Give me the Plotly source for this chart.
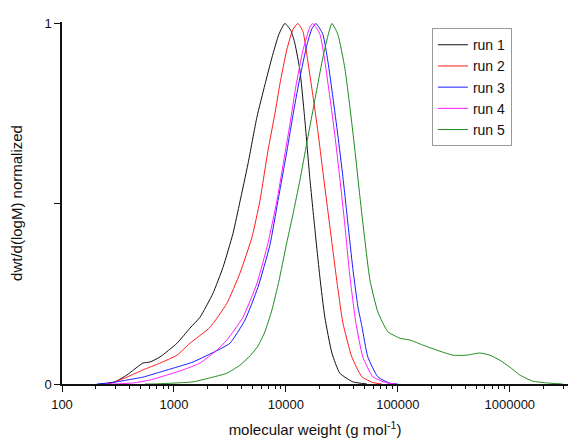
import plotly.graph_objects as go

# molecular weight (g/mol) and normalized dwt/d(logM)
run1_m = [218, 297, 380, 528, 611, 750, 1064, 1390, 1706, 2228, 2738, 3365, 3881, 4581,
          5508, 6494, 7499, 8660, 9795, 11090, 12020, 13340, 14790, 16370, 18150, 20140,
          22280, 25760, 30340, 39630, 52840]
run1_w = [0.0, 0.006, 0.025, 0.058, 0.061, 0.075, 0.113, 0.155, 0.185, 0.251, 0.323, 0.417,
          0.505, 0.61, 0.74, 0.83, 0.905, 0.97, 1.0, 0.98, 0.945, 0.87, 0.73, 0.57, 0.43,
          0.295, 0.185, 0.086, 0.03, 0.006, 0.0]

run2_m = [257, 279, 380, 528, 750, 1064, 1390, 2094, 2972, 3881, 4966, 5861, 6905, 7980,
          8830, 10210, 11550, 12790, 14190, 15700, 17420, 19320, 21380, 23710, 26300, 29110,
          32290, 38820, 47750, 59840, 71940]
run2_w = [0.0, 0.003, 0.019, 0.039, 0.058, 0.08, 0.113, 0.157, 0.224, 0.307, 0.406, 0.508,
          0.646, 0.75, 0.831, 0.928, 0.983, 1.0, 0.978, 0.895, 0.80, 0.70, 0.59, 0.48, 0.37,
          0.265, 0.17, 0.075, 0.02, 0.004, 0.0]

run3_m = [205, 269, 380, 528, 750, 1064, 1479, 2472, 3162, 4305, 5623, 7194, 8492, 10210,
          11780, 13340, 15400, 17060, 18530, 21380, 23710, 26300, 29110, 32290, 35810, 39630,
          43950, 47750, 53950, 66220, 84920, 100000]
run3_w = [0.0, 0.003, 0.011, 0.019, 0.033, 0.047, 0.061, 0.094, 0.113, 0.177, 0.268, 0.385,
          0.508, 0.646, 0.76, 0.85, 0.94, 0.985, 1.0, 0.97, 0.895, 0.795, 0.69, 0.575, 0.445,
          0.32, 0.215, 0.16, 0.075, 0.02, 0.002, 0.0]

run4_m = [242, 285, 431, 611, 866, 1202, 1706, 2421, 2972, 4130, 5508, 6905, 8318, 9400,
          10860, 12270, 14190, 16370, 17420, 20140, 22280, 24720, 27380, 30340, 33650, 37240,
          42170, 48700, 59840, 79800, 93970]
run4_w = [0.0, 0.0, 0.003, 0.011, 0.025, 0.039, 0.058, 0.094, 0.122, 0.185, 0.279, 0.39,
          0.508, 0.605, 0.72, 0.825, 0.925, 0.99, 1.0, 0.97, 0.895, 0.795, 0.69, 0.57, 0.44,
          0.30, 0.17, 0.075, 0.02, 0.003, 0.0]

run5_m = [551, 649, 1064, 1479, 2094, 2972, 3881, 4775, 5623, 6494, 7499, 8660, 10000, 11550,
          13340, 15400, 18920, 21380, 23710, 25760, 29110, 33650, 37240, 41300, 45810, 50700,
          56230, 66220, 81470, 104300, 127900, 167100, 222800, 309700, 413000, 539500,
          662200, 814700, 1000000, 1227000, 1603000, 2138000, 2972000]
run5_w = [0.0, 0.0, 0.003, 0.006, 0.017, 0.03, 0.052, 0.078, 0.105, 0.145, 0.205, 0.285,
          0.38, 0.47, 0.565, 0.67, 0.818, 0.905, 0.965, 1.0, 0.97, 0.875, 0.77, 0.65, 0.52,
          0.40, 0.29, 0.20, 0.145, 0.127, 0.122, 0.108, 0.094, 0.08, 0.08, 0.086, 0.08, 0.066,
          0.047, 0.025, 0.008, 0.003, 0.0]

runs = [
    ("run 1", run1_m, run1_w, "#111111"),
    ("run 2", run2_m, run2_w, "#ff1a1a"),
    ("run 3", run3_m, run3_w, "#1a1aff"),
    ("run 4", run4_m, run4_w, "#ff1aff"),
    ("run 5", run5_m, run5_w, "#1f8a1f"),
]

fig = go.Figure()
for name, m, w, color in runs:
    fig.add_trace(go.Scatter(x=m, y=w, name=name, mode="lines",
                             line=dict(color=color, width=1, shape="spline", smoothing=0.5)))

font = "Liberation Sans, Arial, sans-serif"
fig.update_layout(
    width=568, height=439,
    margin=dict(l=62, r=0, t=22, b=55),
    plot_bgcolor="white", paper_bgcolor="white",
    font=dict(family=font, size=13, color="#111"),
    legend=dict(x=0.731, y=0.983, xanchor="left", yanchor="top",
                bordercolor="#999", borderwidth=1, bgcolor="white",
                font=dict(size=14), tracegroupgap=0),
)
fig.update_xaxes(
    type="log", range=[2, 6.52], dtick=1, tickformat="d", automargin=False,
    showline=True, linecolor="#111", linewidth=1.5, showgrid=False, zeroline=False,
    ticks="outside", ticklen=6, tickcolor="#111", tickwidth=1.3, ticklabelstandoff=2,
    minor=dict(ticks="outside", dtick="D1", ticklen=3, tickcolor="#111", showgrid=False),
    title=dict(text="molecular weight (g mol<sup>-1</sup>)", font=dict(size=15), standoff=13),
)
fig.update_yaxes(
    range=[0, 1.004], tickvals=[0, 0.5, 1], ticktext=["0", "", "1"], automargin=False,
    showline=True, linecolor="#111", linewidth=1.5, showgrid=False, zeroline=False,
    ticks="outside", ticklen=6, tickcolor="#111", tickwidth=1.3,
    title=dict(text="dwt/d(logM) normalized", font=dict(size=15), standoff=18),
)

# drop the default body margin so the figure sits at the window's corner
fig.write_html("out.html", config={"displayModeBar": False},
               post_script="document.body.style.margin='0';document.body.style.overflow='hidden';")
